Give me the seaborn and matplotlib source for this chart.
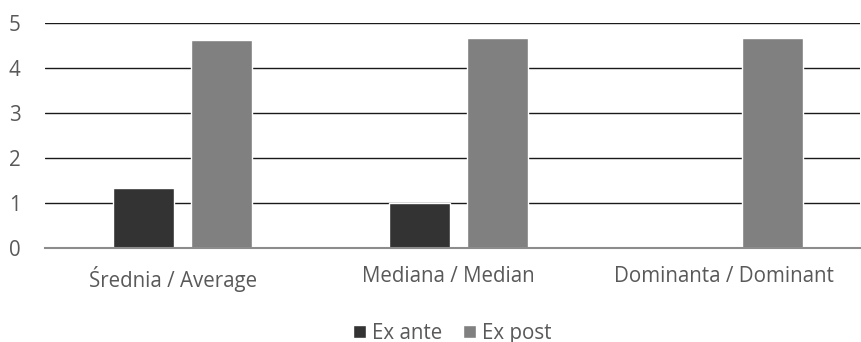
import matplotlib
matplotlib.use("Agg")
import matplotlib.pyplot as plt
import matplotlib.transforms as mtransforms
import pandas as pd
import seaborn as sns

categories = ["Średnia / Average", "Mediana / Median", "Dominanta / Dominant"]
series_names = ["Ex ante", "Ex post"]
ex_ante = [1.33, 1.0, 0.0]
ex_post = [4.61, 4.67, 4.67]
y_ticks = [0, 1, 2, 3, 4, 5]

df = pd.DataFrame({
    "category": categories * 2,
    "series": [series_names[0]] * 3 + [series_names[1]] * 3,
    "value": ex_ante + ex_post,
})

sns.set_theme(style="white")
plt.rcParams["font.family"] = ["Open Sans", "DejaVu Sans"]
text_color = "#595959"
fs = 14.8

fig, ax = plt.subplots(figsize=(8.62, 3.42), dpi=100)
fig.subplots_adjust(left=0.052, right=0.998, top=0.933, bottom=0.275)

sns.barplot(data=df, x="category", y="value", hue="series", order=categories,
            hue_order=series_names, palette=["#333333", "#808080"],
            width=0.566, gap=0.218, ax=ax, saturation=1, legend=True)

ax.set_xlim(-0.5, 2.46)
ax.set_ylim(0, 5)
ax.set_yticks(y_ticks)
ax.yaxis.grid(True, color="#1a1a1a", linewidth=1.0)
ax.set_axisbelow(True)
for side in ["top", "right", "left"]:
    ax.spines[side].set_visible(False)
ax.spines["bottom"].set_color("#8c8c8c")
ax.spines["bottom"].set_linewidth(1.5)
ax.set_xlabel("")
ax.set_ylabel("")
ax.tick_params(axis="y", length=0, pad=26, labelsize=fs, labelcolor=text_color)
ax.tick_params(axis="x", length=0, pad=13, labelsize=fs, labelcolor=text_color)
for lbl in ax.get_yticklabels():
    lbl.set_horizontalalignment("left")

# category labels sit a little left of the bar groups in the original
shift = mtransforms.ScaledTranslation(-10 / 100, 0, fig.dpi_scale_trans)
for lbl in ax.get_xticklabels():
    lbl.set_transform(lbl.get_transform() + shift)

ax.legend(loc="center", bbox_to_anchor=(0.5, -0.378), ncol=2, frameon=False,
          fontsize=fs, labelcolor=text_color, handlelength=0.62, handleheight=0.6,
          handletextpad=0.3, columnspacing=1.0)

fig.savefig("out.png", dpi=100)
